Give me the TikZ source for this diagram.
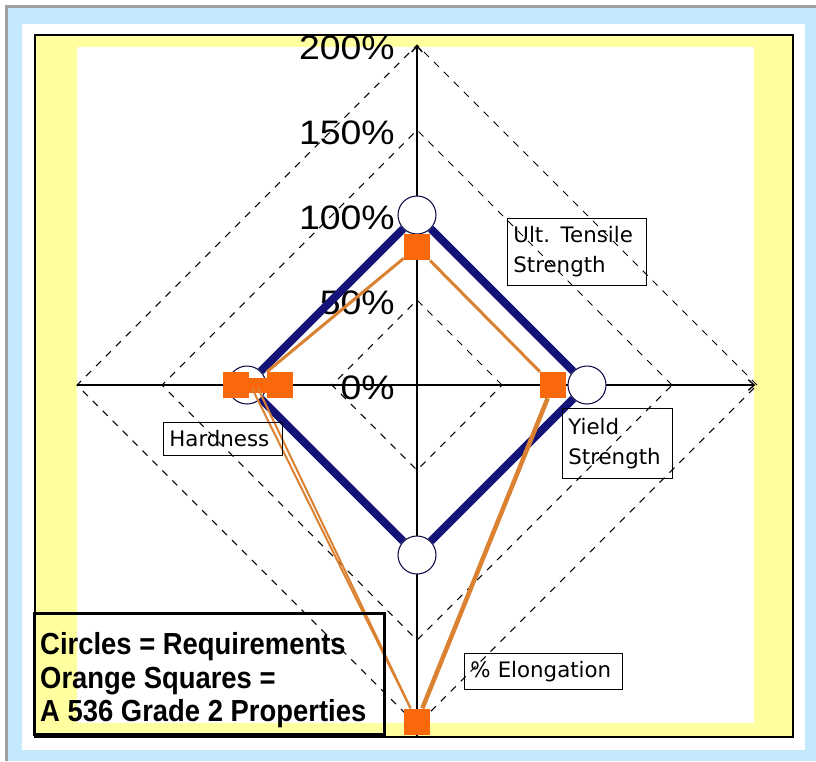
\documentclass[tikz,border=0pt]{standalone}
\usepackage{fontspec}
\setmainfont{Liberation Sans}
\newfontfamily\boxfont{DejaVu Sans}
\newfontfamily\pctfont[FakeStretch=1.1]{Liberation Sans}
\newfontfamily\legendfont[FakeStretch=0.9]{Liberation Sans}
\usetikzlibrary{arrows.meta, positioning}
\definecolor{frameblue}{RGB}{196,232,251}
\definecolor{panelyellow}{RGB}{255,255,160}
\definecolor{reqnavy}{RGB}{20,20,120}
\definecolor{sqorange}{RGB}{250,104,12}
\definecolor{lnorange}{RGB}{218,130,50}
\tikzset{
	gridline/.style={draw=black, line width=0.9pt, dash pattern=on 6pt off 6pt},
	axisline/.style={draw=black, line width=1.2pt, -{Straight Barb[length=5pt, width=9pt]}},
	pctlabel/.style={anchor=east, font=\pctfont\fontsize{29}{31}\selectfont, inner sep=0pt},
	reqcircle/.style={circle, draw=reqnavy!60!black, line width=0.9pt, fill=white, minimum size=11.4mm, inner sep=0pt},
	reqline/.style={draw=reqnavy, line width=2.4mm},
	propsq/.style={rectangle, fill=sqorange, minimum size=7.8mm, inner sep=0pt},
	propline/.style={draw=lnorange, line width=0.9mm},
	proplabel/.style={draw, line width=0.7pt, align=left, inner xsep=1.8mm, font=\boxfont\fontsize{18.2}{25.5}\selectfont, anchor=north west},
	legendbox/.style={draw, line width=0.9mm, anchor=north west, inner sep=0pt},
	legendtext/.style={align=left, inner sep=0pt, font=\legendfont\bfseries\fontsize{26}{28.6}\selectfont}
}
\begin{document}
\begin{tikzpicture}[x=0.3mm, y=-0.3mm]
	\useasboundingbox (0,0) rectangle (816,761);
	% frame and panels
	\fill[white] (0,0) rectangle (816,761);
	\fill[frameblue] (8,8) rectangle (816,761);
	\draw[gray!75, line width=0.9mm] (6.5,761) -- (6.5,6.5) -- (816,6.5);
	\fill[white] (22,24) rectangle (805,750);
	\fill[panelyellow] (35,35) rectangle (793,737);
	\fill[white] (77,47) rectangle (754,723);
	\draw[line width=0.4mm] (35,35) rectangle (793,737);
	
	\coordinate (origin) at (417,385);
	\begin{scope}[shift={(origin)}, x=51mm, y=51mm]
		% dashed rings every 50%
		\foreach \r in {0.5,1,1.5,2}
			\draw[gridline] (\r,0) -- (0,\r) -- (-\r,0) -- (0,-\r) -- cycle;
		% axes
		\draw[axisline] (-2,0) -- (1.99,0);
		\draw[axisline] (0,-2.07) -- (0,2.0);
		% scale labels
		\foreach \v in {0,50,100,150,200}
			\node[pctlabel] (pct\v) at (-0.13,\v/100-0.015) {\v\%};
		
		% requirements
		\node[reqcircle] (reqtop) at (0,1) {};
		\node[reqcircle] (reqright) at (1,0) {};
		\node[reqcircle] (reqbot) at (0,-1) {};
		\node[reqcircle] (reqleft) at (-1,0) {};
		\draw[reqline] (reqtop) -- (reqright) -- (reqbot) -- (reqleft) -- (reqtop);
		
		% measured properties
		\node[propsq] (topsq) at (0,0.81) {};
		\node[propsq] (rightsq) at (0.8,0) {};
		\node[propsq] (botsq) at (0,-1.98) {};
		\node[propsq] (hardA) at (-1.065,0) {};
		\node[propsq] (hardB) at (-0.805,0) {};
		\coordinate (hardlo1) at (-0.97,-0.02);
		\coordinate (hardlo2) at (-0.935,-0.02);
		\draw[sqorange, line width=4.5mm] (hardA) -- (hardB);
		\draw[propline] (hardB.north west) -- (topsq);
		\draw[propline] (topsq) -- (rightsq);
		\draw[propline, line width=1.35mm] (rightsq) -- (botsq);
		\draw[propline, line width=0.6mm] (hardlo1) -- (botsq);
		\draw[propline, line width=0.6mm] (hardlo2) -- (botsq);
	\end{scope}
	
	% property labels
	\node[proplabel, text width=38.1mm, minimum height=20.1mm] (lblult) at (507,218) {Ult. Tensile\\Strength};
	\node[proplabel, text width=29.4mm, minimum height=21mm] (lblyield) at (562,408) {Yield\\Strength};
	\node[proplabel, text width=32.1mm, minimum height=9.9mm] (lblhard) at (163,422) {Hardness};
	\node[proplabel, text width=43.8mm, minimum height=10.8mm] (lblelong) at (464,653) {\% Elongation};
	
	% legend
	\node[legendbox, minimum width=105mm, minimum height=36.3mm] (legend) at (33,612) {};
	\node[legendtext, below right=6.2mm and 2.1mm of legend.north west] (legendtxt) {Circles = Requirements\\Orange Squares =\\A 536 Grade 2 Properties};
\end{tikzpicture}
\end{document}
